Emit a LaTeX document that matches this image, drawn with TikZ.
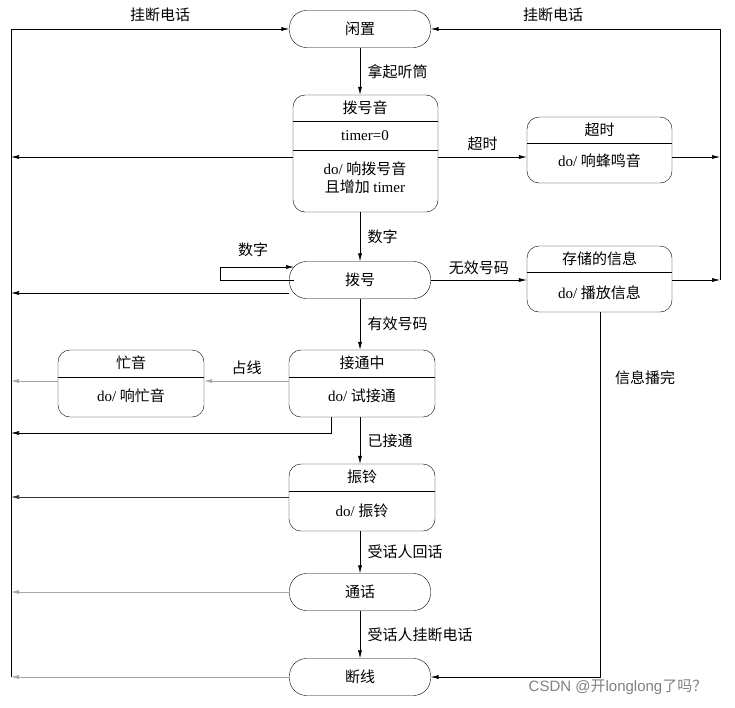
\documentclass[tikz,border=0pt]{standalone}
\usepackage{fontspec}
\setmainfont{Liberation Serif}
\newfontfamily\cjk{Noto Sans CJK SC}
\usetikzlibrary{arrows.meta}
\begin{document}
\begin{tikzpicture}[x=1pt,y=-1pt,font=\cjk\fontsize{15}{18}\selectfont,
  pill/.style={draw,rounded corners=17pt,minimum width=141pt,minimum height=37pt,inner sep=0pt},
  box/.style={draw,rounded corners=12pt,inner sep=0pt},
  arr/.style={-{Latex[length=8pt,width=4pt]},line width=0.6pt},
  garr/.style={arr,draw=gray!70},
  lab/.style={inner sep=1pt}]
\useasboundingbox (0,0) rectangle (735,707);
% states
\node[pill] (idle) at (360,29) {闲置};
\node[box,minimum width=145pt,minimum height=117pt] (dt) at (365.5,153.5) {};
\node at (365,108) {拨号音};
\node at (365,135.5) {\rmfamily timer=0};
\node[align=center] at (365,178) {\rmfamily do/ \cjk 响拨号音\\\cjk 且增加 \rmfamily timer};
\draw (dt.west |- 0,121) -- (dt.east |- 0,121) (dt.west |- 0,150) -- (dt.east |- 0,150);
\node[box,minimum width=145pt,minimum height=66pt] (to) at (599.5,150) {};
\node at (599.5,130) {超时};
\node at (599.5,161) {\rmfamily do/ \cjk 响蜂鸣音};
\draw (to.west |- 0,143) -- (to.east |- 0,143);
\node[pill] (dial) at (360,280) {拨号};
\node[box,minimum width=145pt,minimum height=66pt] (msg) at (599.5,279) {};
\node at (599.5,259) {存储的信息};
\node at (599.5,293) {\rmfamily do/ \cjk 播放信息};
\draw (msg.west |- 0,272) -- (msg.east |- 0,272);
\node[box,minimum width=146pt,minimum height=67pt] (con) at (362,383.5) {};
\node at (362,363) {接通中};
\node at (362,396) {\rmfamily do/ \cjk 试接通};
\draw (con.west |- 0,377) -- (con.east |- 0,377);
\node[box,minimum width=146pt,minimum height=67pt] (busy) at (131,383.5) {};
\node at (131,363) {忙音};
\node at (131,396) {\rmfamily do/ \cjk 响忙音};
\draw (busy.west |- 0,377) -- (busy.east |- 0,377);
\node[box,minimum width=146pt,minimum height=67pt] (ring) at (362,497.5) {};
\node at (362,477) {振铃};
\node at (362,511) {\rmfamily do/ \cjk 振铃};
\draw (ring.west |- 0,491) -- (ring.east |- 0,491);
\node[pill] (talk) at (360,592) {通话};
\node[pill] (disc) at (360,677) {断线};
% bus coordinates
\coordinate (L0) at (11,29); \coordinate (Lb) at (11,677);
\coordinate (R0) at (720,29); \coordinate (Rb) at (720,280);
\draw[line width=0.6pt] (Lb) -- (L0);
\draw[arr] (L0) -- (idle.west);
\draw[line width=0.6pt] (Rb) -- (R0);
\draw[arr] (R0) -- (idle.east);
\node[lab] at (160,15) {挂断电话};
\node[lab] at (553,15) {挂断电话};
% main flow
\draw[arr] (idle) -- (idle |- dt.north) node[midway,right=4pt] {拿起听筒};
\draw[arr] (dt.south -| dial) -- (dial.north) node[midway,right=4pt] {数字};
\draw[arr] (dial.south) -- (dial.south |- con.north) node[midway,right=4pt] {有效号码};
\draw[arr] (con.south -| dial) -- (dial |- ring.north) node[midway,right=4pt] {已接通};
\draw[arr] (ring.south -| dial) -- (talk.north) node[midway,right=4pt] {受话人回话};
\draw[arr] (talk.south) -- (disc.north) node[midway,right=4pt] {受话人挂断电话};
% side transitions
\draw[arr] (dt.east |- 0,157) -- (to.west |- 0,157) node[midway,above=3pt] {超时};
\draw[arr] (to.east |- 0,157) -- (720,157);
\draw[arr] (dial.east) -- (msg.west |- dial.east) node[midway,above=2pt] {无效号码};
\draw[arr] (msg.east |- 0,280) -- (Rb);
\draw[arr] (600,312) -- (600,677) -- (disc.east);
\node[lab] at (645,378) {信息播完};
\draw[arr] (294,280) -- (220,280) -- (220,267) -- (294,267);
\node[lab] at (253,250) {数字};
\draw[garr] (con.west |- 0,381) -- (busy.east |- 0,381) node[midway,above=3pt,black] {占线};
\draw[garr] (busy.west |- 0,381) -- (11,381);
\draw[arr] (331,417) -- (331,433) -- (11,433);
% to left bus
\draw[arr] (dt.west |- 0,157) -- (11,157);
\draw[arr] (dial.west |- 0,293) -- (11,293);
\draw[arr,draw=gray!40!black] (ring.west |- 0,497) -- (11,497);
\draw[garr] (talk.west) -- (11,592);
\draw[garr] (disc.west) -- (11,677);
\node[text=gray,font=\fontspec{Liberation Sans}\fontsize{15}{18}\selectfont] at (618,687) {CSDN @\cjk 开\fontspec{Liberation Sans}longlong\cjk 了吗？};
\end{tikzpicture}
\end{document}
